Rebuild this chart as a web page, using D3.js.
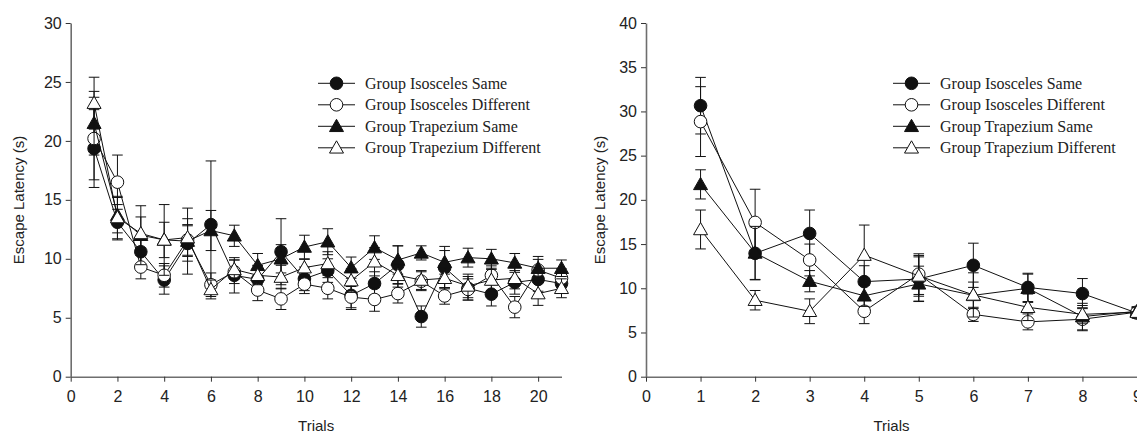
<!DOCTYPE html>
<html>
<head>
<meta charset="utf-8">
<script src="https://cdn.jsdelivr.net/npm/d3@7"></script>
<style>
  body { margin: 0; background: #fff; }
  svg { display: block; }
  .tick text { font-family: "Liberation Sans", Arial, sans-serif; font-size: 16px; fill: #222; }
</style>
</head>
<body>
<div id="chart"></div>
<script>
// series names shared by both panels
const seriesNames = ['Group Isosceles Same', 'Group Isosceles Different', 'Group Trapezium Same', 'Group Trapezium Different'];

// left panel: trials 1..21
const trialsLeft = d3.range(1, 22);
const leftIsoSame = [19.35, 13.1, 10.6, 8.2, 11.3, 12.9, 8.6, 8.25, 10.6, 8.3, 9.0, 6.9, 7.9, 9.5, 5.1, 9.25, 7.5, 7.0, 8.0, 8.25, 7.9];
const leftIsoDiff = [20.2, 16.5, 9.3, 8.6, 11.6, 7.8, 8.9, 7.35, 6.6, 7.85, 7.5, 6.75, 6.55, 7.05, 8.1, 6.85, 7.4, 8.6, 5.9, 9.05, 8.35];
const leftTrapSame = [21.5, 13.7, 12.0, 11.6, 11.5, 12.4, 11.95, 9.45, 10.0, 11.0, 11.45, 9.25, 10.95, 9.9, 10.5, 9.7, 10.1, 10.0, 9.65, 9.2, 9.2];
const leftTrapDiff = [23.2, 13.5, 12.15, 11.6, 11.8, 7.4, 9.1, 8.6, 8.45, 9.25, 9.6, 8.15, 9.75, 8.6, 8.2, 8.35, 7.7, 8.2, 8.35, 7.05, 7.5];
const leftIsoSameErr = [3.3, 1.5, 1.2, 1.2, 1.5, 5.4, 1.5, 1.2, 2.8, 1.0, 1.0, 1.2, 1.0, 1.6, 0.9, 1.8, 1.0, 1.0, 1.0, 1.0, 0.8];
const leftIsoDiffErr = [3.5, 2.3, 1.0, 1.0, 1.3, 1.0, 1.0, 0.9, 0.9, 0.8, 0.9, 0.9, 1.0, 0.8, 0.8, 0.7, 0.9, 0.8, 0.9, 0.9, 0.8];
const leftTrapSameErr = [2.7, 1.5, 2.5, 3.0, 2.8, 1.7, 0.9, 1.0, 1.2, 1.0, 1.1, 0.9, 1.0, 1.2, 0.6, 1.0, 0.8, 0.8, 0.8, 1.0, 0.7];
const leftTrapDiffErr = [2.2, 1.8, 1.4, 1.5, 1.6, 0.8, 0.8, 0.8, 1.0, 0.7, 1.0, 1.0, 1.2, 1.0, 0.8, 0.8, 1.0, 0.9, 0.9, 1.0, 0.8];

// right panel: trials 1..9
const trialsRight = d3.range(1, 10);
const rightIsoSame = [30.65, 13.95, 16.2, 10.75, 11.05, 12.6, 10.1, 9.4, 7.2];
const rightIsoDiff = [28.85, 17.45, 13.2, 7.4, 11.6, 7.05, 6.2, 6.5, 7.3];
const rightTrapSame = [21.75, 14.0, 10.8, 9.15, 10.5, 9.2, 10.0, 6.8, 7.4];
const rightTrapDiff = [16.65, 8.65, 7.4, 13.75, 11.4, 9.25, 7.85, 7.05, 7.3];
const rightIsoSameErr = [3.2, 3.0, 2.65, 1.8, 2.5, 2.5, 1.6, 1.7, 0.6];
const rightIsoDiffErr = [3.95, 3.75, 1.8, 1.4, 2.3, 0.8, 0.9, 1.3, 0.6];
const rightTrapSameErr = [1.65, 3.0, 1.2, 1.2, 2.0, 1.5, 1.6, 1.5, 0.5];
const rightTrapDiffErr = [2.2, 1.1, 1.4, 3.4, 2.3, 2.5, 1.5, 1.0, 0.5];

const leftTicksX = d3.range(0, 21, 2);
const leftTicksY = d3.range(0, 31, 5);
const rightTicksX = d3.range(0, 10, 1);
const rightTicksY = d3.range(0, 41, 5);

// marker style per series: shape, fill
const markerStyle = [
    { shape: 'circle', fill: '#111' },
    { shape: 'circle', fill: '#fff' },
    { shape: 'triangle', fill: '#111' },
    { shape: 'triangle', fill: '#fff' }
];

const width = 1137, height = 433;
const svg = d3.select('#chart').append('svg')
    .attr('width', width)
    .attr('height', height);

function drawMarker(g, cx, cy, style) {
    if (style.shape == 'circle') {
        g.append('circle')
            .attr('cx', cx).attr('cy', cy).attr('r', 6.3)
            .attr('fill', style.fill).attr('stroke', '#111').attr('stroke-width', 1);
    } else {
        let s = 7;
        g.append('path')
            .attr('d', `M${cx},${cy - s} L${cx + s},${cy + s * 0.75} L${cx - s},${cy + s * 0.75} Z`)
            .attr('fill', style.fill).attr('stroke', '#111').attr('stroke-width', 1);
    }
}

function drawPanel(opts) {
    let x = d3.scaleLinear().domain(opts.xDomain).range(opts.xRange);
    let y = d3.scaleLinear().domain(opts.yDomain).range([376.7, 23]);
    let axisColor = '#6e6e6e';

    // axes
    let gx = svg.append('g')
        .attr('transform', 'translate(0,376.7)')
        .call(d3.axisBottom(x).tickValues(opts.xTicks).tickSize(5).tickPadding(9).tickSizeOuter(0));
    let gy = svg.append('g')
        .attr('transform', 'translate(' + opts.xRange[0] + ',0)')
        .call(d3.axisLeft(y).tickValues(opts.yTicks).tickSize(5).tickPadding(4).tickSizeOuter(0));
    [gx, gy].forEach(function (g) {
        g.select('.domain').attr('stroke', axisColor).attr('stroke-width', 1.6);
        g.selectAll('.tick line').attr('stroke', '#333').attr('stroke-width', 1);
    });

    // axis titles
    svg.append('text')
        .attr('transform', 'translate(' + opts.yTitleX + ',200) rotate(-90)')
        .attr('text-anchor', 'middle')
        .attr('dy', '0.35em')
        .style('font-family', '"Liberation Sans", Arial, sans-serif')
        .style('font-size', '15px')
        .attr('fill', '#222')
        .text('Escape Latency (s)');
    svg.append('text')
        .attr('x', (opts.xRange[0] + opts.xRange[1]) / 2)
        .attr('y', 431)
        .attr('text-anchor', 'middle')
        .style('font-family', '"Liberation Sans", Arial, sans-serif')
        .style('font-size', '15px')
        .attr('fill', '#222')
        .text('Trials');

    // series
    let plot = svg.append('g');
    opts.series.forEach(function (vals, si) {
        let errs = opts.errors[si];
        let g = plot.append('g');
        // error bars
        vals.forEach(function (v, i) {
            let cx = x(opts.trials[i]);
            let top = y(v + errs[i]), bot = y(v - errs[i]);
            g.append('line').attr('x1', cx).attr('x2', cx).attr('y1', top).attr('y2', bot)
                .attr('stroke', '#111').attr('stroke-width', 1);
            [top, bot].forEach(function (yy) {
                g.append('line').attr('x1', cx - 5.3).attr('x2', cx + 5.3).attr('y1', yy).attr('y2', yy)
                    .attr('stroke', '#111').attr('stroke-width', 1);
            });
        });
        // connecting line
        let line = d3.line()
            .x(function (d, i) { return x(opts.trials[i]); })
            .y(function (d) { return y(d); });
        g.append('path').datum(vals)
            .attr('d', line)
            .attr('fill', 'none')
            .attr('stroke', '#111')
            .attr('stroke-width', 1);
        // markers
        vals.forEach(function (v, i) {
            drawMarker(g, x(opts.trials[i]), y(v), markerStyle[si]);
        });
    });

    // legend
    let leg = svg.append('g');
    seriesNames.forEach(function (name, i) {
        let cy = 83.3 + i * 21.5;
        leg.append('line')
            .attr('x1', opts.legendX).attr('x2', opts.legendX + 37)
            .attr('y1', cy).attr('y2', cy)
            .attr('stroke', '#111').attr('stroke-width', 1);
        drawMarker(leg, opts.legendX + 18.5, cy, markerStyle[i]);
        leg.append('text')
            .attr('x', opts.legendX + 47)
            .attr('y', cy)
            .attr('dy', '0.35em')
            .style('font-family', '"Liberation Serif", "Times New Roman", serif')
            .style('font-size', '16px')
            .attr('fill', '#222')
            .text(name);
    });
}

drawPanel({
    xDomain: [0, 21], xRange: [70.7, 561.5],
    yDomain: [0, 30],
    xTicks: leftTicksX, yTicks: leftTicksY,
    trials: trialsLeft,
    series: [leftIsoSame, leftIsoDiff, leftTrapSame, leftTrapDiff],
    errors: [leftIsoSameErr, leftIsoDiffErr, leftTrapSameErr, leftTrapDiffErr],
    yTitleX: 18.5,
    legendX: 318
});

drawPanel({
    xDomain: [0, 9], xRange: [646, 1137],
    yDomain: [0, 40],
    xTicks: rightTicksX, yTicks: rightTicksY,
    trials: trialsRight,
    series: [rightIsoSame, rightIsoDiff, rightTrapSame, rightTrapDiff],
    errors: [rightIsoSameErr, rightIsoDiffErr, rightTrapSameErr, rightTrapDiffErr],
    yTitleX: 600,
    legendX: 893
});
</script>
</body>
</html>
